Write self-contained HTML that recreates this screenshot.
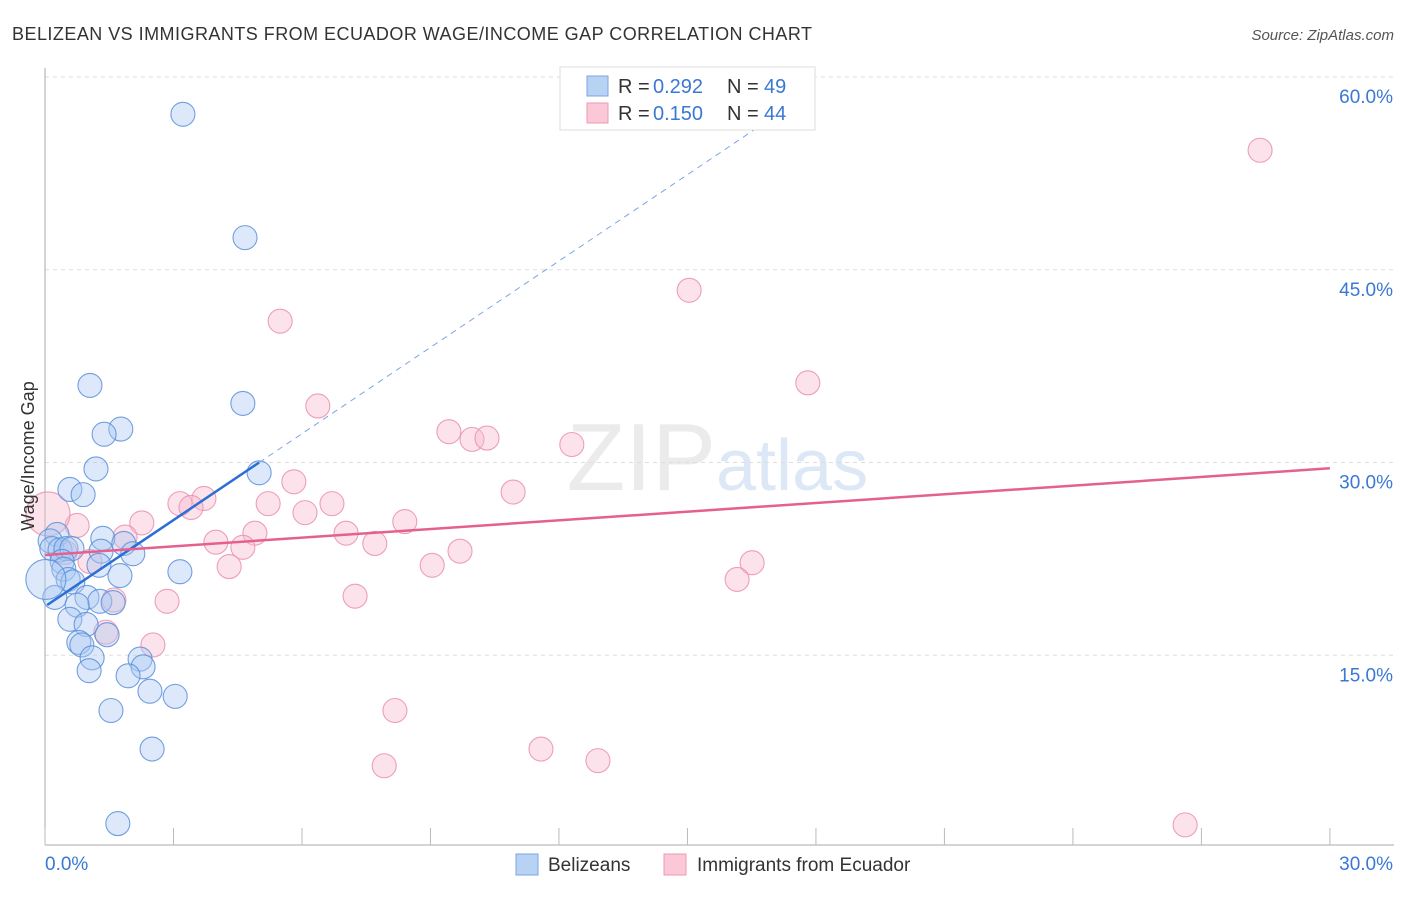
<!DOCTYPE html>
<html><head><meta charset="utf-8"><style>
body{margin:0;background:#fff;font-family:"Liberation Sans",sans-serif;}
svg text{font-family:"Liberation Sans",sans-serif;}
</style></head><body>
<svg id="chart" width="1406" height="892" xmlns="http://www.w3.org/2000/svg">
<text x="12" y="40" font-size="18" fill="#333" textLength="800">BELIZEAN VS IMMIGRANTS FROM ECUADOR WAGE/INCOME GAP CORRELATION CHART</text>
<text x="1394" y="40" font-size="15" fill="#555" font-style="italic" text-anchor="end">Source: ZipAtlas.com</text>
<text x="716" y="490" font-size="96" fill="#ebebeb" text-anchor="end" font-family="Liberation Serif">ZIP</text>
<text x="716" y="490" font-size="72" fill="#dde8f7">atlas</text>
<g id="grid"></g>
<g id="axes"></g>
<g id="pts"></g>
<g id="lines"></g>
<text transform="translate(34,456) rotate(-90)" font-size="18" fill="#333" text-anchor="middle">Wage/Income Gap</text>
<g>
<rect x="560" y="67" width="255" height="63" fill="#fff" stroke="#ddd"/>
<rect x="587" y="76" width="21" height="20" fill="#b8d2f4" stroke="#7ba6e0"/>
<rect x="587" y="103" width="21" height="20" fill="#fac8d7" stroke="#ee9ab5"/>
<text x="618" y="93" font-size="20" fill="#333">R = </text>
<text x="653" y="93" font-size="20" fill="#3a78d4">0.292</text>
<text x="727" y="93" font-size="20" fill="#333">N = </text>
<text x="764" y="93" font-size="20" fill="#3a78d4">49</text>
<text x="618" y="120" font-size="20" fill="#333">R = </text>
<text x="653" y="120" font-size="20" fill="#3a78d4">0.150</text>
<text x="727" y="120" font-size="20" fill="#333">N = </text>
<text x="764" y="120" font-size="20" fill="#3a78d4">44</text>
</g>
<g>
<rect x="516" y="854" width="22" height="21" fill="#b8d2f4" stroke="#7ba6e0"/>
<text x="548" y="871" font-size="19" fill="#333">Belizeans</text>
<rect x="664" y="854" width="22" height="21" fill="#fac8d7" stroke="#ee9ab5"/>
<text x="697" y="871" font-size="19" fill="#333">Immigrants from Ecuador</text>
</g>
</svg>
<script>
const blueX=[3.22,4.67,1.05,4.62,1.77,1.38,1.19,5.00,0.58,0.89,0.28,1.35,0.12,1.84,0.16,0.35,0.49,0.63,1.31,2.05,0.40,1.26,0.44,3.15,1.75,0.54,0.65,0.23,0.98,1.28,1.59,0.75,0.58,0.96,0.79,0.86,1.45,2.22,1.10,2.29,1.03,1.94,2.45,3.04,1.54,2.50,1.70];
const blueY=[57.1,47.5,36.0,34.6,32.6,32.2,29.5,29.2,27.9,27.5,24.4,24.1,23.9,23.7,23.3,23.2,23.3,23.3,23.1,22.9,22.3,22.0,21.7,21.5,21.2,20.9,20.7,19.5,19.5,19.2,19.1,18.9,17.8,17.4,16.0,15.8,16.6,14.7,14.8,14.1,13.8,13.4,12.2,11.8,10.7,7.7,1.9];
const pinkX=[28.37,15.04,5.49,17.81,6.37,9.43,9.97,10.32,12.30,5.81,10.93,3.15,3.71,3.41,5.21,6.70,6.07,0.75,2.26,8.40,1.87,4.90,7.03,3.99,4.62,7.70,9.69,0.47,1.05,4.30,9.04,16.51,16.16,7.24,2.85,1.61,1.42,2.52,8.17,11.58,7.92,12.91,26.62];
const pinkY=[54.3,43.4,41.0,36.2,34.4,32.4,31.8,31.9,31.4,28.5,27.7,26.8,27.2,26.5,26.8,26.8,26.1,25.1,25.3,25.4,24.2,24.5,24.5,23.8,23.4,23.7,23.1,23.0,22.3,21.9,22.0,22.2,20.9,19.6,19.2,19.3,16.8,15.8,10.7,7.7,6.4,6.8,1.8];
const bigBlue=[[0.02,20.9]];
const bigPink=[[0.07,26.0]];
const blueTrend=[18.8,2.24];
const pinkTrend=[22.8,0.225];
const yTicks=[15,30,45,60];
const NS='http://www.w3.org/2000/svg';
const X=v=>45+v*42.83, Y=v=>848-v*12.85;
function mk(tag,attrs,parent){const e=document.createElementNS(NS,tag);for(const k in attrs)e.setAttribute(k,attrs[k]);parent.appendChild(e);return e;}
const grid=document.getElementById('grid'),axes=document.getElementById('axes'),pts=document.getElementById('pts'),lines=document.getElementById('lines');
yTicks.forEach(t=>{const l=mk('line',{x1:45,x2:1394,y1:Y(t),y2:Y(t),stroke:'#ddd','stroke-dasharray':'4,4'},grid);


const tx=mk('text',{x:1393,y:Y(t)+26,'font-size':19,fill:'#3a78d4','text-anchor':'end'},axes);tx.textContent=t.toFixed(1)+'%';

});
mk('line',{x1:45,x2:45,y1:68,y2:845,stroke:'#aaa'},axes);
mk('line',{x1:45,x2:1394,y1:845,y2:845,stroke:'#aaa'},axes);
for(let i=0;i<=10;i++){mk('line',{x1:X(i*3),x2:X(i*3),y1:828,y2:845,stroke:'#bbb'},axes);}
let t0=mk('text',{x:45,y:870,'font-size':19,fill:'#3a78d4'},axes);t0.textContent='0.0%';


let t1=mk('text',{x:1393,y:870,'font-size':19,fill:'#3a78d4','text-anchor':'end'},axes);t1.textContent='30.0%';


function dot(x,y,r,f,s){const c=mk('circle',{cx:X(x),cy:Y(y),r:r,fill:f,'fill-opacity':0.4,stroke:s,'stroke-width':1.1,'stroke-opacity':0.85},pts);

}
pinkX.forEach((x,i)=>dot(x,pinkY[i],12,'#f8b8cc','#ea8fae'));
bigPink.forEach(p=>dot(p[0],p[1],22,'#f8b8cc','#ea8fae'));
blueX.forEach((x,i)=>dot(x,blueY[i],12,'#a9c9f2','#5b8fd9'));
bigBlue.forEach(p=>dot(p[0],p[1],20,'#a9c9f2','#5b8fd9'));
let bl=mk('line',{x1:X(0.05),y1:Y(blueTrend[0]+blueTrend[1]*0.05),x2:X(5),y2:Y(blueTrend[0]+blueTrend[1]*5),stroke:'#2a6fd6','stroke-width':2.5},lines);


let bd=mk('line',{x1:X(5),y1:Y(blueTrend[0]+blueTrend[1]*5),x2:X(17.9),y2:Y(blueTrend[0]+blueTrend[1]*17.9),stroke:'#7aa6e4','stroke-width':1,'stroke-dasharray':'6,5'},lines);


let pl=mk('line',{x1:X(0),y1:Y(pinkTrend[0]),x2:X(30),y2:Y(pinkTrend[0]+pinkTrend[1]*30),stroke:'#e5608f','stroke-width':2.5},lines);


</script>
</body></html>
